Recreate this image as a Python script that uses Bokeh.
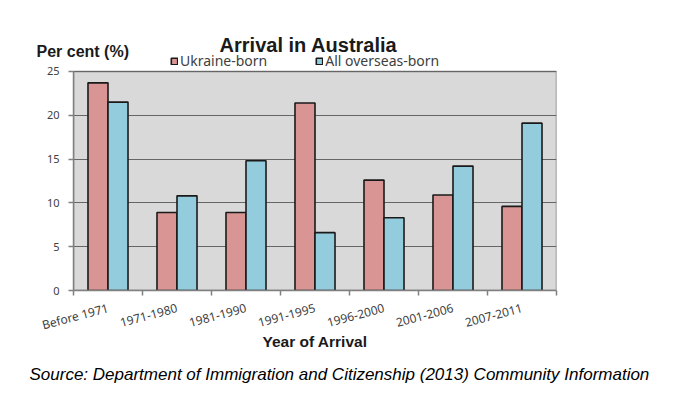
import math
from bokeh.plotting import figure
from bokeh.models import (ColumnDataSource, Range1d, LinearAxis,
                          FixedTicker, Legend, LegendItem, Label, Title)
from bokeh.transform import dodge
from bokeh.embed import file_html
from bokeh.resources import INLINE

periods = ["Before 1971", "1971-1980", "1981-1990", "1991-1995",
           "1996-2000", "2001-2006", "2007-2011"]
ukraine_born = [23.7, 8.9, 8.9, 21.4, 12.6, 10.9, 9.6]
all_overseas_born = [21.5, 10.8, 14.8, 6.6, 8.3, 14.2, 19.1]
y_ticks = [0, 5, 10, 15, 20, 25]

n = len(periods)
y_max = y_ticks[-1]
centers = [i + 0.5 for i in range(n)]
edges = list(range(n + 1))

source = ColumnDataSource(dict(pos=centers, period=periods,
                               uk=ukraine_born, all=all_overseas_born))

# frame extends a little above the plot area so the legend can sit inside it
p = figure(width=700, height=394, x_range=Range1d(0, n), y_range=Range1d(0, 27.39),
           x_axis_location=None, output_backend="svg", toolbar_location=None,
           min_border_left=73, min_border_right=144, min_border_top=50,
           min_border_bottom=103)
p.background_fill_color = "white"
p.border_fill_color = "white"
p.outline_line_color = None
p.xgrid.grid_line_color = None
p.ygrid.grid_line_color = None

# plot area + gridlines
p.quad(left=[0], right=[n], bottom=[0], top=[y_max],
       fill_color="#d9d9d9", line_color="#808080", line_width=1.5)
p.hspan(y=y_ticks[1:], line_color="#666666", line_width=1.2)

# boundary ticks axis
edge_axis = LinearAxis(ticker=FixedTicker(ticks=edges),
                       major_label_text_font_size="0px", major_label_standoff=0,
                       major_tick_out=5, major_tick_in=0,
                       minor_tick_line_color=None,
                       axis_line_color="#808080", axis_line_width=1.5,
                       major_tick_line_color="#808080", major_tick_line_width=1.5)
p.add_layout(edge_axis, "below")

label_axis = LinearAxis(ticker=FixedTicker(ticks=centers),
                        major_label_overrides={c: lab for c, lab in zip(centers, periods)},
                        major_label_orientation=math.radians(15),
                        axis_line_color=None, major_tick_line_color=None,
                        minor_tick_line_color=None,
                        major_tick_out=0, major_tick_in=0,
                        major_label_standoff=12,
                        major_label_text_font="Noto Sans",
                        major_label_text_font_size="12px",
                        major_label_text_color="#404040",
                        axis_label="Year of Arrival",
                        axis_label_standoff=-12,
                        axis_label_text_font="Liberation Sans",
                        axis_label_text_font_style="bold",
                        axis_label_text_font_size="15.5px",
                        axis_label_text_color="#1a1a1a")
p.add_layout(label_axis, "below")

p.add_layout(Title(text="Source: Department of Immigration and Citizenship (2013) Community Information",
                   align="left", offset=-44, standoff=21,
                   text_font="Liberation Sans", text_font_style="italic",
                   text_font_size="17px", text_color="black"), "below")

yaxis = p.yaxis[0]
yaxis.ticker = FixedTicker(ticks=y_ticks)
yaxis.bounds = (0, y_max)
yaxis.major_tick_out = 5
yaxis.major_tick_in = 0
yaxis.minor_tick_line_color = None
yaxis.axis_line_color = "#808080"
yaxis.axis_line_width = 1.5
yaxis.major_tick_line_color = "#808080"
yaxis.major_tick_line_width = 1.5
yaxis.major_label_standoff = 9
yaxis.major_label_text_font = "Noto Sans"
yaxis.major_label_text_font_size = "11px"
yaxis.major_label_text_color = "#404040"

r1 = p.vbar(x=dodge("pos", -0.145), top="uk", width=0.29,
            source=source, fill_color="#d99594", line_color="#1a1a1a", line_width=1.6)
r2 = p.vbar(x=dodge("pos", 0.145), top="all", width=0.29,
            source=source, fill_color="#93cddd", line_color="#1a1a1a", line_width=1.6)

legend = Legend(items=[LegendItem(label="Ukraine-born", renderers=[r1]),
                       LegendItem(label="All overseas-born", renderers=[r2])],
                orientation="horizontal", location=(97, 220),
                glyph_width=8, glyph_height=8, label_standoff=2, spacing=48,
                padding=0, margin=0, border_line_color=None,
                background_fill_alpha=0,
                label_text_font="Noto Sans", label_text_font_size="14px",
                label_text_color="#404040", label_height=14)
p.add_layout(legend)

p.add_layout(Label(x=235, y=6, x_units="screen", y_units="screen",
                   text="Arrival in Australia", text_align="center",
                   text_baseline="alphabetic", text_font="Liberation Sans",
                   text_font_style="bold", text_font_size="20px", text_color="#1a1a1a"),
             "above")
p.add_layout(Label(x=-37, y=-23, x_units="screen", y_units="screen",
                   text="Per cent (%)", text_align="left",
                   text_baseline="alphabetic", text_font="Liberation Sans",
                   text_font_style="bold", text_font_size="16px", text_color="#1a1a1a"),
             "above")

open("out.html", "w").write(file_html(p, INLINE))
